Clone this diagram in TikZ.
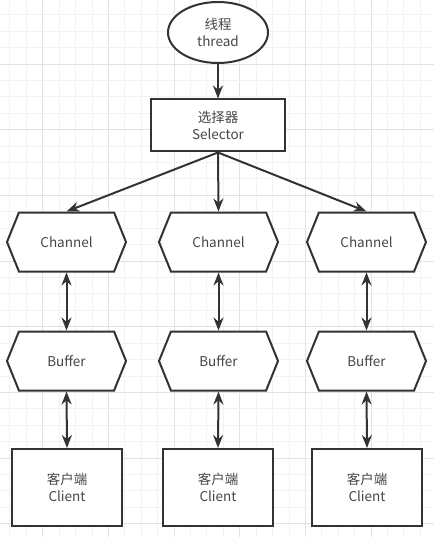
\documentclass[tikz,border=0pt]{standalone}
\usepackage{fontspec}
\setmainfont{Noto Sans CJK SC}
\usepackage{tikz}
\usetikzlibrary{shapes.geometric, shapes.symbols, arrows.meta, positioning}
\definecolor{line}{RGB}{51,51,51}
\definecolor{gridminor}{RGB}{242,242,242}
\definecolor{gridmajor}{RGB}{226,226,226}

\begin{document}
\begin{tikzpicture}[
  x=1pt, y=-1pt,
  every node/.style={font=\fontsize{13.5}{17}\selectfont, text=line!90, align=center},
  thread/.style={ellipse, draw=line, line width=2pt, fill=white, minimum width=100pt, minimum height=61pt, inner sep=0pt},
  box/.style={rectangle, draw=line, line width=2pt, fill=white, minimum width=134pt, minimum height=52pt},
  client/.style={rectangle, draw=line, line width=2pt, fill=white, minimum width=110pt, minimum height=77pt},
  hexa/.style={signal, signal to=west and east, signal pointer angle=136, draw=line, line width=2pt, fill=white, minimum width=119pt, minimum height=59pt, inner sep=0pt},
  arrow/.style={-{Stealth[length=13pt, width=10pt]}, line width=2pt, draw=line},
  arrowboth/.style={{Stealth[length=13pt, width=10pt]}-{Stealth[length=13pt, width=10pt]}, line width=2pt, draw=line}
]

% Hintergrund mit Raster
\useasboundingbox (0,0) rectangle (434,537);
\fill[white] (0,0) rectangle (434,537);
\foreach \i in {0,...,26} {
  \pgfmathsetmacro{\xx}{9.8+16.42*\i}
  \pgfmathtruncatemacro{\mm}{mod(\i+2,4)}
  \ifnum\mm=0 \draw[gridmajor, line width=0.8pt] (\xx,0) -- (\xx,537);
  \else \draw[gridminor, line width=0.8pt] (\xx,0) -- (\xx,537); \fi
}
\foreach \j in {0,...,32} {
  \pgfmathsetmacro{\yy}{14.7+16.42*\j}
  \pgfmathtruncatemacro{\mm}{mod(\j+1,4)}
  \ifnum\mm=0 \draw[gridmajor, line width=0.8pt] (0,\yy) -- (434,\yy);
  \else \draw[gridminor, line width=0.8pt] (0,\yy) -- (434,\yy); \fi
}

% --- Thread und Selector ---
\node[thread] (thread) at (218,32.5) {线程\\thread};
\node[box] (selector) at (218,125.5) {选择器\\Selector};

% --- Channels ---
\node[hexa] (chan1) at (66.5,242) {Channel};
\node[hexa] (chan2) at (218.5,242) {Channel};
\node[hexa] (chan3) at (366.5,242) {Channel};

% --- Buffer ---
\node[hexa] (buf1) at (66.5,361) {Buffer};
\node[hexa] (buf2) at (218.5,361) {Buffer};
\node[hexa] (buf3) at (366.5,361) {Buffer};

% --- Clients ---
\node[client] (client1) at (67,487.5) {客户端\\Client};
\node[client] (client2) at (218,487.5) {客户端\\Client};
\node[client] (client3) at (367,487.5) {客户端\\Client};

% Verbindungen
\draw[arrow] (thread.south) -- (selector.north);
\draw[arrow] (selector.south) -- (chan1.north);
\draw[arrow] (selector.south) -- (chan2.north);
\draw[arrow] (selector.south) -- (chan3.north);

\draw[arrowboth] (chan1.south) -- (buf1.north);
\draw[arrowboth] (chan2.south) -- (buf2.north);
\draw[arrowboth] (chan3.south) -- (buf3.north);

\draw[arrowboth] (buf1.south) -- (client1.north);
\draw[arrowboth] (buf2.south) -- (client2.north);
\draw[arrowboth] (buf3.south) -- (client3.north);
\end{tikzpicture}
\end{document}
